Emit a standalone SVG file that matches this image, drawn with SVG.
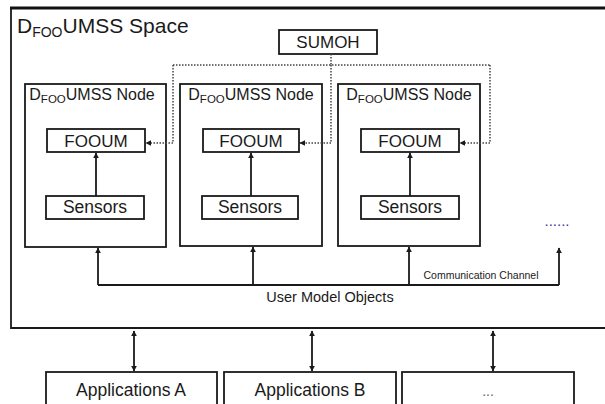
<svg xmlns="http://www.w3.org/2000/svg" width="605" height="404" viewBox="0 0 605 404">
<defs>
<marker id="ah" viewBox="0 0 10 10" refX="9" refY="5" markerWidth="6" markerHeight="6" orient="auto-start-reverse" markerUnits="userSpaceOnUse">
<path d="M0,0 L10,5 L0,10 z" fill="#1a1a1a"/>
</marker>
<style>
.box{fill:#fff;stroke:#1a1a1a;stroke-width:1.8}
.t{font-family:"Liberation Sans",Arial,sans-serif;fill:#1a1a1a;text-anchor:middle}
.ln{fill:none;stroke:#1a1a1a;stroke-width:1.8}
.dot{fill:none;stroke:#444;stroke-width:1.5;stroke-dasharray:1.5 1.5}
</style>
</defs>
<rect width="605" height="404" fill="#fff"/>
<g id="space">
<path d="M11,329 L11,8" class="ln"/>
<path d="M10,8 L605,8" fill="none" stroke="#111" stroke-width="3"/>
<path d="M11,328 L605,328" class="ln"/>
<text x="17" y="33" font-family="Liberation Sans,Arial,sans-serif" font-size="21" fill="#1a1a1a">D<tspan font-size="14" dy="4">FOO</tspan><tspan dy="-4">UMSS Space</tspan></text>
</g>
<g id="sumoh">
<rect x="279" y="30" width="98" height="24" class="box"/>
<text x="328" y="48" class="t" font-size="17">SUMOH</text>
</g>
<g id="node1">
<rect x="25" y="84" width="141" height="163" class="box"/>
<text x="92" y="100" class="t" font-size="16">D<tspan font-size="11.5" dy="3">FOO</tspan><tspan dy="-3">UMSS Node</tspan></text>
<g id="fooum1"><rect x="47" y="129" width="98" height="23" class="box"/><text x="96" y="147" class="t" font-size="17">FOOUM</text></g>
<g id="sensors1"><rect x="46" y="196" width="98" height="23" class="box"/><text x="95" y="213" class="t" font-size="17.5">Sensors</text></g>
</g>
<g id="node2">
<rect x="180" y="84" width="142" height="162" class="box"/>
<text x="251" y="100" class="t" font-size="16">D<tspan font-size="11.5" dy="3">FOO</tspan><tspan dy="-3">UMSS Node</tspan></text>
<g id="fooum2"><rect x="203" y="129" width="96" height="23" class="box"/><text x="251" y="147" class="t" font-size="17">FOOUM</text></g>
<g id="sensors2"><rect x="202" y="196" width="96" height="23" class="box"/><text x="250" y="213" class="t" font-size="17.5">Sensors</text></g>
</g>
<g id="node3">
<rect x="338" y="84" width="142" height="162" class="box"/>
<text x="409" y="100" class="t" font-size="16">D<tspan font-size="11.5" dy="3">FOO</tspan><tspan dy="-3">UMSS Node</tspan></text>
<g id="fooum3"><rect x="361" y="129" width="98" height="23" class="box"/><text x="410" y="147" class="t" font-size="17">FOOUM</text></g>
<g id="sensors3"><rect x="361" y="196" width="98" height="23" class="box"/><text x="410" y="213" class="t" font-size="17.5">Sensors</text></g>
</g>
<g id="more"><text x="557" y="226" class="t" font-size="15" style="fill:#3a3a9a">......</text></g>
<g id="appA"><rect x="46" y="372" width="171" height="40" class="box"/><text x="131" y="396" class="t" font-size="17.5">Applications A</text></g>
<g id="appB"><rect x="224" y="372" width="172" height="40" class="box"/><text x="310" y="396" class="t" font-size="17.5">Applications B</text></g>
<g id="appC"><rect x="402" y="372" width="172" height="40" class="box"/><text x="488" y="396" class="t" font-size="14" style="fill:#666">...</text></g>
<g id="connectors">
<path d="M331,54 L331,65 M173,65 L490,65" class="dot"/>
<path d="M173,65 L173,143 L146,143" class="dot" marker-end="url(#ah)"/>
<path d="M331,65 L331,143 L300,143" class="dot" marker-end="url(#ah)"/>
<path d="M490,65 L490,143 L460,143" class="dot" marker-end="url(#ah)"/>
<path d="M96,196 L96,153" class="ln" marker-end="url(#ah)"/>
<path d="M251,196 L251,153" class="ln" marker-end="url(#ah)"/>
<path d="M410,196 L410,153" class="ln" marker-end="url(#ah)"/>
<path d="M98,285 L559,285" class="ln"/>
<path d="M98,285 L98,248" class="ln" marker-end="url(#ah)"/>
<path d="M253,285 L253,247" class="ln" marker-end="url(#ah)"/>
<path d="M409,285 L409,247" class="ln" marker-end="url(#ah)"/>
<path d="M559,285 L559,248" class="ln" marker-end="url(#ah)"/>
<text x="481" y="279" class="t" font-size="10.5">Communication Channel</text>
<text x="330" y="302" class="t" font-size="14.5">User Model Objects</text>
<path d="M134,331 L134,371" class="ln" marker-start="url(#ah)" marker-end="url(#ah)"/>
<path d="M312,331 L312,371" class="ln" marker-start="url(#ah)" marker-end="url(#ah)"/>
<path d="M493,331 L493,371" class="ln" marker-start="url(#ah)" marker-end="url(#ah)"/>
</g>
</svg>
